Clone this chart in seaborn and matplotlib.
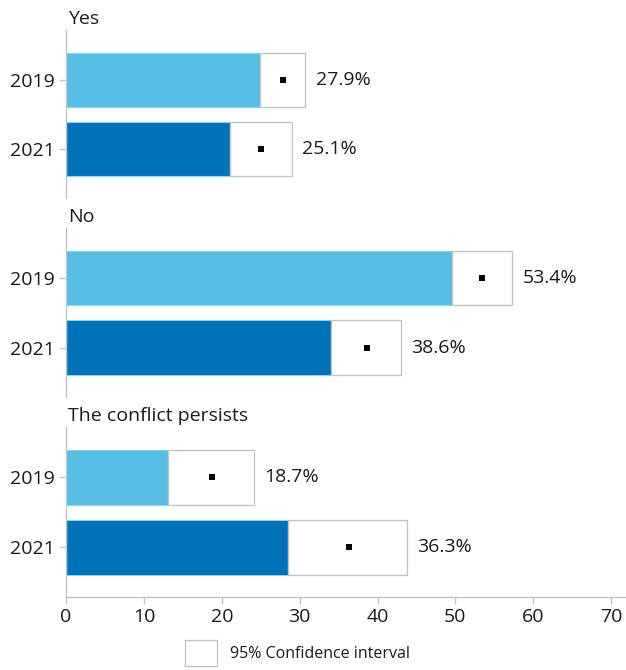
import matplotlib
matplotlib.use("Agg")
import matplotlib.pyplot as plt
from matplotlib.patches import Patch
import seaborn as sns
import pandas as pd

# Survey answers, by year, with 95% confidence bounds (percent)
categories = ["Yes", "No", "The conflict persists"]
years = ["2019", "2021"]
estimate = [[27.9, 25.1], [53.4, 38.6], [18.7, 36.3]]
ci_low = [[24.9, 21.1], [49.6, 34.0], [13.1, 28.5]]
ci_high = [[30.7, 29.0], [57.3, 43.0], [24.1, 43.8]]
x_ticks = [0, 10, 20, 30, 40, 50, 60, 70]

sns.set_style("white")
plt.rcParams["font.family"] = ["Open Sans", "DejaVu Sans"]

LIGHT = "#57bde5"
DARK = "#0072b8"
GREY = "#bcc8c8"
TEXT = "#1a1a1a"
FS = 14

fig = plt.figure(figsize=(6.26, 6.70), dpi=100)

left = 66 / 626
width = 560 / 626
panel_px = [(30, 198), (228, 397), (427, 597)]
H = 670
bar_h = 0.78

for i, cat in enumerate(categories):
    top_px, bot_px = panel_px[i]
    ax = fig.add_axes([left, (H - bot_px) / H, width, (bot_px - top_px) / H])
    df = pd.DataFrame({
        "year": years,
        "low": ci_low[i],
        "high": ci_high[i],
        "est": estimate[i],
    })
    sns.barplot(data=df, x="low", y="year", hue="year", palette=[LIGHT, DARK],
                saturation=1, orient="h", width=bar_h, legend=False, ax=ax,
                edgecolor=["#8ad2ef", "#3a8fc8"], linewidth=0.8)
    pos = list(range(len(years)))
    # confidence interval boxes
    ax.barh(pos, df["high"] - df["low"], left=df["low"], height=bar_h,
            facecolor="white", edgecolor=GREY, linewidth=1.0, zorder=3)
    # point estimates
    ax.scatter(df["est"], pos, marker="s", s=16, color="black", zorder=4,
               linewidths=0)
    for p, hi, est in zip(pos, df["high"], df["est"]):
        ax.annotate(f"{est:.1f}%", xy=(hi, p), xytext=(7.5, 0),
                    textcoords="offset points", va="center", ha="left",
                    fontsize=FS, color=TEXT)

    ax.set_xlim(0, 71.9)
    ax.set_ylim(1.71, -0.72)
    ax.set_xlabel("")
    ax.set_ylabel("")
    for s in ["top", "right"]:
        ax.spines[s].set_visible(False)
    ax.spines["left"].set_color(GREY)
    ax.spines["left"].set_linewidth(1.0)
    ax.tick_params(axis="y", length=5, color=GREY, width=1.0, pad=3,
                   labelsize=FS, labelcolor=TEXT, left=True)
    if i < len(categories) - 1:
        ax.spines["bottom"].set_visible(False)
        ax.set_xticks([])
    else:
        ax.spines["bottom"].set_color(GREY)
        ax.spines["bottom"].set_linewidth(1.0)
        ax.set_xticks(x_ticks)
        ax.set_xticklabels([str(t) for t in x_ticks])
        ax.tick_params(axis="x", length=5, color=GREY, width=1.0, pad=3,
                       labelsize=FS, labelcolor=TEXT, bottom=True)
    fig.text(68 / 626, (H - (top_px - 11)) / H, cat, ha="left", va="center",
             fontsize=FS, color=TEXT)

fig.legend(handles=[Patch(facecolor="white", edgecolor=GREY, linewidth=1.0)],
           labels=["95% Confidence interval"], loc="center left",
           bbox_to_anchor=(171 / 626, (H - 653) / H), frameon=False,
           handlelength=2.0, handleheight=2.2, handletextpad=0.8,
           fontsize=11.5, labelcolor=TEXT)

fig.savefig("out.png", dpi=100)
